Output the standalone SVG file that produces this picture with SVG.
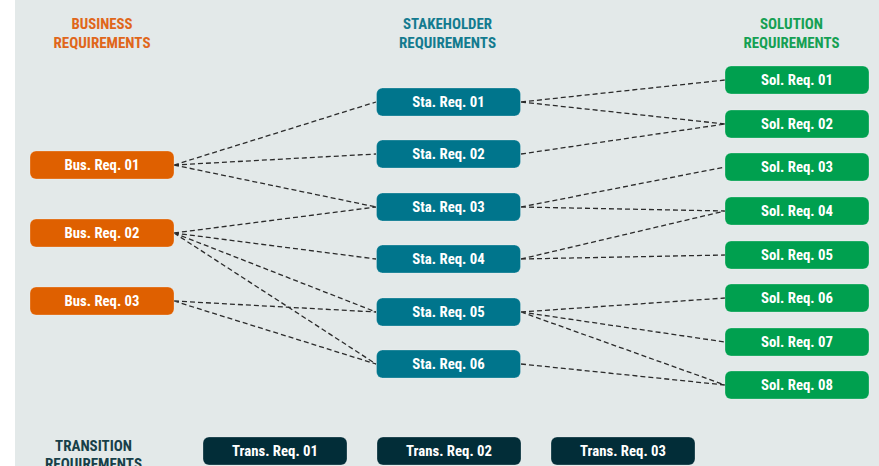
<svg xmlns="http://www.w3.org/2000/svg" width="879" height="466" viewBox="0 0 879 466">
<style>
.bg{fill:#e3e9e9}
.hd{font-family:"Roboto Condensed",Roboto,"Liberation Sans",sans-serif;font-weight:700;font-size:14px;text-anchor:middle}
.lbl{font-family:"Roboto Condensed",Roboto,"Liberation Sans",sans-serif;font-weight:700;font-size:15px;fill:#ffffff;text-anchor:middle}
.bus{fill:#df6000}
.sta{fill:#00758c}
.sol{fill:#00a04f}
.trn{fill:#022d38}
.box{stroke:#ffffff;stroke-opacity:0.25;stroke-width:1}
.cn{fill:none;stroke:#2b2b2b;stroke-width:1.3;stroke-dasharray:5 3}
</style>
<rect class="bg" x="15" y="0" width="864" height="466"/>
<g id="headers">
<text class="hd" fill="#e0661a" x="102" y="29" textLength="61" lengthAdjust="spacingAndGlyphs">BUSINESS</text>
<text class="hd" fill="#e0661a" x="102" y="48" textLength="97" lengthAdjust="spacingAndGlyphs">REQUIREMENTS</text>
<text class="hd" fill="#137b8f" x="447.5" y="29" textLength="89" lengthAdjust="spacingAndGlyphs">STAKEHOLDER</text>
<text class="hd" fill="#137b8f" x="447.5" y="48" textLength="97" lengthAdjust="spacingAndGlyphs">REQUIREMENTS</text>
<text class="hd" fill="#15a053" x="791.5" y="29" textLength="63" lengthAdjust="spacingAndGlyphs">SOLUTION</text>
<text class="hd" fill="#15a053" x="791.5" y="48" textLength="96" lengthAdjust="spacingAndGlyphs">REQUIREMENTS</text>
<text class="hd" fill="#173f48" x="93.5" y="450.5" textLength="77" lengthAdjust="spacingAndGlyphs">TRANSITION</text>
<text class="hd" fill="#173f48" x="93.5" y="469" textLength="97" lengthAdjust="spacingAndGlyphs">REQUIREMENTS</text>
</g>
<g id="connectors">
<path class="cn" d="M174 165L376 102M174 165L376 154M174 165L376 207"/>
<path class="cn" d="M174 233L376 207M174 233L376 259M174 233L376 312M174 233L376 364"/>
<path class="cn" d="M174 301L376 312M174 301L376 364"/>
<path class="cn" d="M521 102L725 80M521 102L725 124M521 154L725 124"/>
<path class="cn" d="M521 207L725 167M521 207L725 211M521 259L725 211M521 259L725 255"/>
<path class="cn" d="M521 312L725 298M521 312L725 342M521 312L725 385M521 364L725 385"/>
</g>
<g id="bus01"><rect class="bus box" x="30" y="151" width="144" height="28" rx="6"/><text class="lbl" x="102" y="170" textLength="75" lengthAdjust="spacingAndGlyphs">Bus. Req. 01</text></g>
<g id="bus02"><rect class="bus box" x="30" y="219" width="144" height="28" rx="6"/><text class="lbl" x="102" y="238" textLength="75" lengthAdjust="spacingAndGlyphs">Bus. Req. 02</text></g>
<g id="bus03"><rect class="bus box" x="30" y="287" width="144" height="28" rx="6"/><text class="lbl" x="102" y="306" textLength="75" lengthAdjust="spacingAndGlyphs">Bus. Req. 03</text></g>
<g id="sta01"><rect class="sta box" x="376.5" y="88" width="144" height="28" rx="6"/><text class="lbl" x="448.5" y="107" textLength="72.5" lengthAdjust="spacingAndGlyphs">Sta. Req. 01</text></g>
<g id="sta02"><rect class="sta box" x="376.5" y="140" width="144" height="28" rx="6"/><text class="lbl" x="448.5" y="159" textLength="72.5" lengthAdjust="spacingAndGlyphs">Sta. Req. 02</text></g>
<g id="sta03"><rect class="sta box" x="376.5" y="193" width="144" height="28" rx="6"/><text class="lbl" x="448.5" y="212" textLength="72.5" lengthAdjust="spacingAndGlyphs">Sta. Req. 03</text></g>
<g id="sta04"><rect class="sta box" x="376.5" y="245" width="144" height="28" rx="6"/><text class="lbl" x="448.5" y="264" textLength="72.5" lengthAdjust="spacingAndGlyphs">Sta. Req. 04</text></g>
<g id="sta05"><rect class="sta box" x="376.5" y="298" width="144" height="28" rx="6"/><text class="lbl" x="448.5" y="317" textLength="72.5" lengthAdjust="spacingAndGlyphs">Sta. Req. 05</text></g>
<g id="sta06"><rect class="sta box" x="376.5" y="350" width="144" height="28" rx="6"/><text class="lbl" x="448.5" y="369" textLength="72.5" lengthAdjust="spacingAndGlyphs">Sta. Req. 06</text></g>
<g id="sol01"><rect class="sol box" x="725" y="66" width="144" height="28" rx="6"/><text class="lbl" x="797" y="85" textLength="72" lengthAdjust="spacingAndGlyphs">Sol. Req. 01</text></g>
<g id="sol02"><rect class="sol box" x="725" y="110" width="144" height="28" rx="6"/><text class="lbl" x="797" y="129" textLength="72" lengthAdjust="spacingAndGlyphs">Sol. Req. 02</text></g>
<g id="sol03"><rect class="sol box" x="725" y="153" width="144" height="28" rx="6"/><text class="lbl" x="797" y="172" textLength="72" lengthAdjust="spacingAndGlyphs">Sol. Req. 03</text></g>
<g id="sol04"><rect class="sol box" x="725" y="197" width="144" height="28" rx="6"/><text class="lbl" x="797" y="216" textLength="72" lengthAdjust="spacingAndGlyphs">Sol. Req. 04</text></g>
<g id="sol05"><rect class="sol box" x="725" y="241" width="144" height="28" rx="6"/><text class="lbl" x="797" y="260" textLength="72" lengthAdjust="spacingAndGlyphs">Sol. Req. 05</text></g>
<g id="sol06"><rect class="sol box" x="725" y="284" width="144" height="28" rx="6"/><text class="lbl" x="797" y="303" textLength="72" lengthAdjust="spacingAndGlyphs">Sol. Req. 06</text></g>
<g id="sol07"><rect class="sol box" x="725" y="328" width="144" height="28" rx="6"/><text class="lbl" x="797" y="347" textLength="72" lengthAdjust="spacingAndGlyphs">Sol. Req. 07</text></g>
<g id="sol08"><rect class="sol box" x="725" y="371" width="144" height="28" rx="6"/><text class="lbl" x="797" y="390" textLength="72" lengthAdjust="spacingAndGlyphs">Sol. Req. 08</text></g>
<g id="trans01"><rect class="trn box" x="203" y="437" width="144" height="28" rx="6"/><text class="lbl" x="275" y="456" textLength="86" lengthAdjust="spacingAndGlyphs">Trans. Req. 01</text></g>
<g id="trans02"><rect class="trn box" x="377" y="437" width="144" height="28" rx="6"/><text class="lbl" x="449" y="456" textLength="86" lengthAdjust="spacingAndGlyphs">Trans. Req. 02</text></g>
<g id="trans03"><rect class="trn box" x="551" y="437" width="144" height="28" rx="6"/><text class="lbl" x="623" y="456" textLength="86" lengthAdjust="spacingAndGlyphs">Trans. Req. 03</text></g>
</svg>
